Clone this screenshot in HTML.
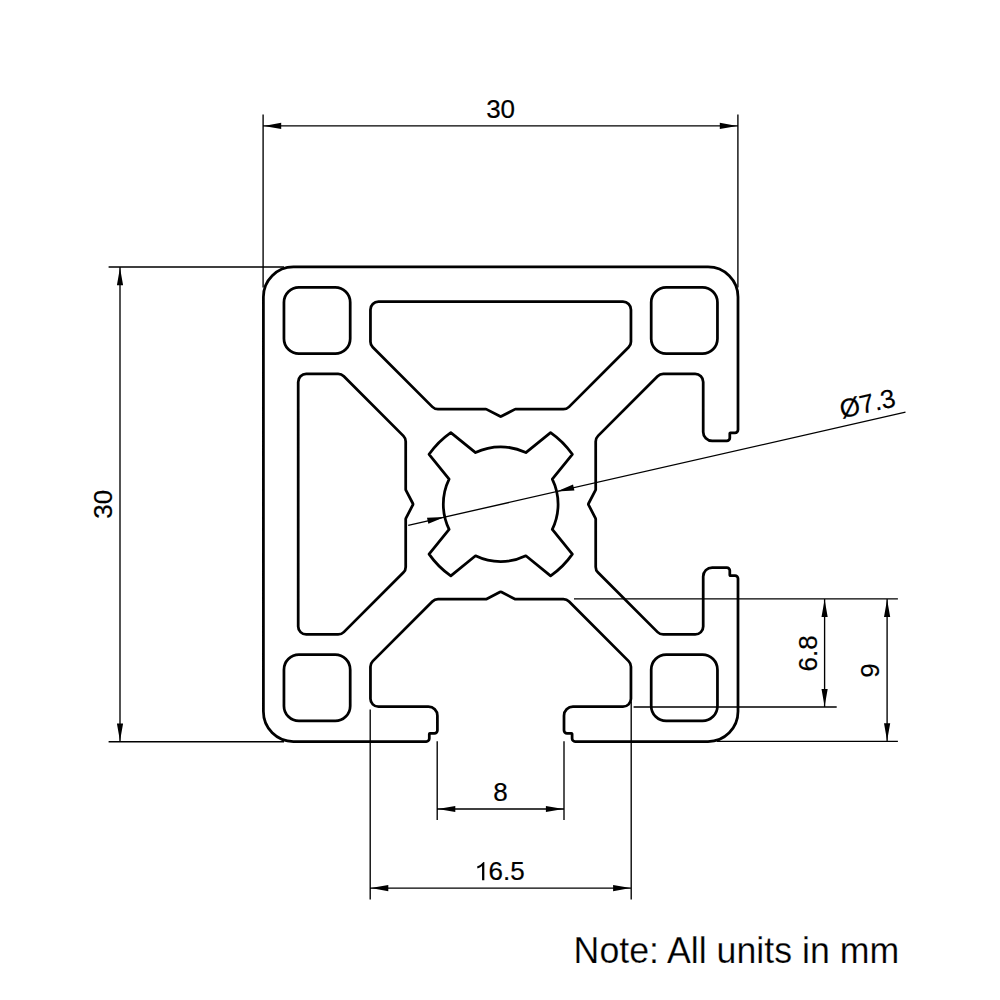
<!DOCTYPE html>
<html><head><meta charset="utf-8"><style>
html,body{margin:0;padding:0;background:#fff;width:1000px;height:1000px;overflow:hidden}
svg{display:block}
text{font-family:"Liberation Sans",sans-serif;font-size:26px;fill:#000;stroke:#000;stroke-width:0.2px}
text.note{font-size:37.4px;stroke:#fff;stroke-width:0.25px}
</style></head><body>
<svg width="1000" height="1000" viewBox="0 0 1000 1000">
<rect width="1000" height="1000" fill="#fff"/>
<path d="M263.4 296.9A30 30 0 0 1 293.4 266.9L708 266.9A30 30 0 0 1 738 296.9L738 429.8A3 3 0 0 1 735 432.8L730.4 432.8A0.6 0.6 0 0 0 729.8 433.4L729.8 437.9A3 3 0 0 1 726.8 440.9L712.2 440.9A9 9 0 0 1 703.2 431.9L703.2 381.95A8 8 0 0 0 695.2 373.95L663.26 373.95A8 8 0 0 0 657.61 376.29L598.04 435.86A8 8 0 0 0 595.7 441.51L595.7 489.43A1.5 1.5 0 0 1 595.53 490.13L588.56 503.51A1.5 1.5 0 0 0 588.56 504.89L595.53 518.27A1.5 1.5 0 0 1 595.7 518.97L595.7 566.89A8 8 0 0 0 598.04 572.54L657.61 632.11A8 8 0 0 0 663.26 634.45L695.2 634.45A8 8 0 0 0 703.2 626.45L703.2 576.5A9 9 0 0 1 712.2 567.5L726.8 567.5A3 3 0 0 1 729.8 570.5L729.8 575A0.6 0.6 0 0 0 730.4 575.6L735 575.6A3 3 0 0 1 738 578.6L738 711.5A30 30 0 0 1 708 741.5L575.1 741.5A3 3 0 0 1 572.1 738.5L572.1 733.9A0.6 0.6 0 0 0 571.5 733.3L567 733.3A3 3 0 0 1 564 730.3L564 715.7A9 9 0 0 1 573 706.7L622.95 706.7A8 8 0 0 0 630.95 698.7L630.95 666.76A8 8 0 0 0 628.61 661.11L569.04 601.54A8 8 0 0 0 563.39 599.2L515.47 599.2A1.5 1.5 0 0 1 514.77 599.03L501.39 592.06A1.5 1.5 0 0 0 500.01 592.06L486.63 599.03A1.5 1.5 0 0 1 485.93 599.2L438.01 599.2A8 8 0 0 0 432.36 601.54L372.79 661.11A8 8 0 0 0 370.45 666.76L370.45 698.7A8 8 0 0 0 378.45 706.7L428.4 706.7A9 9 0 0 1 437.4 715.7L437.4 730.3A3 3 0 0 1 434.4 733.3L429.9 733.3A0.6 0.6 0 0 0 429.3 733.9L429.3 738.5A3 3 0 0 1 426.3 741.5L293.4 741.5A30 30 0 0 1 263.4 711.5ZM370.45 309.7A8 8 0 0 1 378.45 301.7L622.95 301.7A8 8 0 0 1 630.95 309.7L630.95 341.64A8 8 0 0 1 628.61 347.29L569.04 406.86A8 8 0 0 1 563.39 409.2L515.47 409.2A1.5 1.5 0 0 0 514.77 409.37L501.39 416.34A1.5 1.5 0 0 1 500.01 416.34L486.63 409.37A1.5 1.5 0 0 0 485.93 409.2L438.01 409.2A8 8 0 0 1 432.36 406.86L372.79 347.29A8 8 0 0 1 370.45 341.64ZM338.14 373.95A8 8 0 0 1 343.79 376.29L403.36 435.86A8 8 0 0 1 405.7 441.51L405.7 489.43A1.5 1.5 0 0 0 405.87 490.13L412.84 503.51A1.5 1.5 0 0 1 412.84 504.89L405.87 518.27A1.5 1.5 0 0 0 405.7 518.97L405.7 566.89A8 8 0 0 1 403.36 572.54L343.79 632.11A8 8 0 0 1 338.14 634.45L306.2 634.45A8 8 0 0 1 298.2 626.45L298.2 381.95A8 8 0 0 1 306.2 373.95ZM350.2 338.7A15 15 0 0 1 335.2 353.7L298.95 353.7A15 15 0 0 1 283.95 338.7L283.95 302.45A15 15 0 0 1 298.95 287.45L335.2 287.45A15 15 0 0 1 350.2 302.45ZM350.2 669.7A15 15 0 0 0 335.2 654.7L298.95 654.7A15 15 0 0 0 283.95 669.7L283.95 705.95A15 15 0 0 0 298.95 720.95L335.2 720.95A15 15 0 0 0 350.2 705.95ZM651.2 338.7A15 15 0 0 0 666.2 353.7L702.45 353.7A15 15 0 0 0 717.45 338.7L717.45 302.45A15 15 0 0 0 702.45 287.45L666.2 287.45A15 15 0 0 0 651.2 302.45ZM651.2 669.7A15 15 0 0 1 666.2 654.7L702.45 654.7A15 15 0 0 1 717.45 669.7L717.45 705.95A15 15 0 0 1 702.45 720.95L666.2 720.95A15 15 0 0 1 651.2 705.95ZM449.11 479.04L429.06 454.31A87.3 87.3 0 0 1 450.81 432.56L475.54 452.61A57.4 57.4 0 0 1 525.86 452.61L550.59 432.56A87.3 87.3 0 0 1 572.34 454.31L552.29 479.04A57.4 57.4 0 0 1 552.29 529.36L572.34 554.09A87.3 87.3 0 0 1 550.59 575.84L525.86 555.79A57.4 57.4 0 0 1 475.54 555.79L450.81 575.84A87.3 87.3 0 0 1 429.06 554.09L449.11 529.36A57.4 57.4 0 0 1 449.11 479.04 Z" fill="none" stroke="#000" stroke-width="2.75" stroke-linejoin="round"/>
<path d="M263.1 114.4L263.1 287.5M737.9 114.4L737.9 287.5M263.1 125.9L737.9 125.9M108.6 267L284 267M108.6 741.7L284 741.7M120 267L120 741.7M408.2 525.4L905.5 412.2M574 598.9L897.9 598.9M633.6 707L836.7 707M717 741.4L897.9 741.4M824.6 598.9L824.6 707M887.1 598.9L887.1 741.4M437.2 741.2L437.2 820M564 741.2L564 820M437.2 809L564 809M370.2 709.5L370.2 899.6M631.2 701.6L631.2 899.6M370.2 888.1L631.2 888.1" fill="none" stroke="#000" stroke-width="1.35"/>
<path d="M263.7 125.9 L281.2 122.8 L281.2 129 ZM737.3 125.9 L719.8 129 L719.8 122.8 ZM120 267.8 L123.1 285.3 L116.9 285.3 ZM120 740.9 L116.9 723.4 L123.1 723.4 ZM444.73 516.94 L428.36 523.85 L426.98 517.8 ZM556.67 491.46 L573.04 484.55 L574.42 490.6 ZM824.6 599.5 L827.7 617 L821.5 617 ZM824.6 706.4 L821.5 688.9 L827.7 688.9 ZM887.1 599.5 L890.2 617 L884 617 ZM887.1 740.8 L884 723.3 L890.2 723.3 ZM437.8 809 L455.3 805.9 L455.3 812.1 ZM563.4 809 L545.9 812.1 L545.9 805.9 ZM370.8 888.1 L388.3 885 L388.3 891.2 ZM630.6 888.1 L613.1 891.2 L613.1 885 Z" fill="#000"/>
<text x="500.6" y="118.3" text-anchor="middle">30</text>
<text transform="translate(112.1 504.3) rotate(-90)" x="0" y="0" text-anchor="middle">30</text>
<text transform="translate(871.2 420) rotate(-12.82)" x="0" y="-8" text-anchor="middle">Ø7.3</text>
<text transform="translate(817.3 653.3) rotate(-90)" x="0" y="0" text-anchor="middle">6.8</text>
<text transform="translate(878.5 670.4) rotate(-90)" x="0" y="0" text-anchor="middle">9</text>
<text x="500.6" y="801.4" text-anchor="middle">8</text>
<text x="488.5" y="880.4">6.5</text>
<path d="M483.5 861.9L484.35 861.9L484.35 880.3L482.05 880.3L482.05 865.9Q480 867.6 477.5 868.6L477.1 866.5Q481.2 864.6 483.5 861.9Z" fill="#000"/>
<text x="573.6" y="962.8" class="note" textLength="325.6" lengthAdjust="spacingAndGlyphs">Note: All units in mm</text>
</svg>
</body></html>
